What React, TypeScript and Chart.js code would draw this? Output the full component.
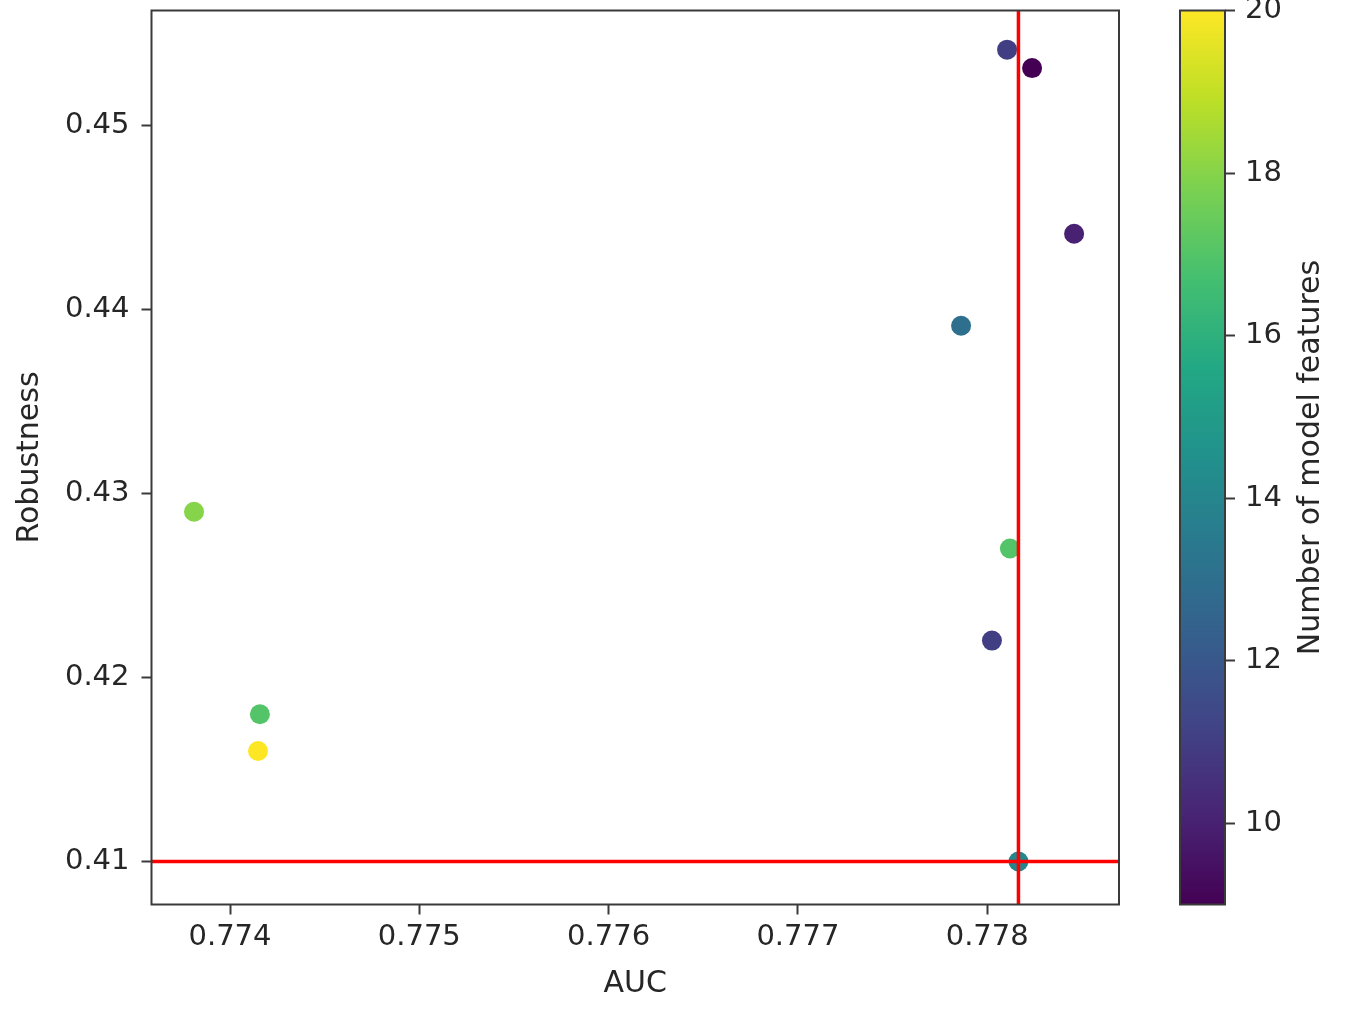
import React, { useEffect, useRef } from "react";
import { Chart, registerables } from "chart.js";

Chart.register(...registerables);

// ---- data ----
const AUC = [0.778105, 0.778237, 0.778459, 0.777862, 0.77381, 0.77812, 0.778025, 0.774158, 0.774148, 0.778165];
const ROBUSTNESS = [0.4541, 0.4531, 0.4441, 0.4391, 0.429, 0.427, 0.422, 0.418, 0.416, 0.41];
const FEATURES = [11, 9, 10, 13, 18, 17, 11, 17, 20, 14];

const X_TICKS = [0.774, 0.775, 0.776, 0.777, 0.778];
const Y_TICKS = [0.41, 0.42, 0.43, 0.44, 0.45];
const CB_TICKS = [10, 12, 14, 16, 18, 20];

const X_RANGE = [0.7735853, 0.7786962];
const Y_RANGE = [0.407663, 0.456228];
const CB_RANGE = [9, 20];

const REF_AUC = 0.778165;
const REF_ROBUSTNESS = 0.41;

const X_TITLE = "AUC";
const Y_TITLE = "Robustness";
const CB_TITLE = "Number of model features";

const VIRIDIS = [
  "#440154", "#482475", "#414487", "#355f8d", "#2a788e",
  "#21918c", "#22a884", "#44bf70", "#7ad151", "#bddf26", "#fde725",
];

// ---- helpers ----
function hexToRgb(h: string) {
  const n = parseInt(h.slice(1), 16);
  return [(n >> 16) & 255, (n >> 8) & 255, n & 255];
}
function viridis(v: number) {
  let t = (v - CB_RANGE[0]) / (CB_RANGE[1] - CB_RANGE[0]);
  t = Math.max(0, Math.min(1, t));
  const pos = t * (VIRIDIS.length - 1);
  const i = Math.min(Math.floor(pos), VIRIDIS.length - 2);
  const f = pos - i;
  const a = hexToRgb(VIRIDIS[i]);
  const b = hexToRgb(VIRIDIS[i + 1]);
  const c = a.map((x, k) => Math.round(x + (b[k] - x) * f));
  return `rgb(${c[0]},${c[1]},${c[2]})`;
}

const FONT_FAMILY = "'DejaVu Sans', sans-serif";
const TEXT_COLOR = "#262626";
const AXIS_COLOR = "#3a3a3a";
const TICK_FONT = { family: FONT_FAMILY, size: 29 };
const TITLE_FONT = { family: FONT_FAMILY, size: 30 };

const framePlugin = {
  id: "frame",
  afterDraw(chart: any) {
    const { ctx, chartArea } = chart;
    if (!chartArea) return;
    ctx.save();
    ctx.strokeStyle = AXIS_COLOR;
    ctx.lineWidth = 2;
    ctx.strokeRect(chartArea.left, chartArea.top, chartArea.right - chartArea.left, chartArea.bottom - chartArea.top);
    ctx.restore();
  },
};

const cbTitlePlugin = {
  id: "cbTitle",
  afterDraw(chart: any) {
    const { ctx, chartArea } = chart;
    if (!chartArea) return;
    ctx.save();
    ctx.translate(179, (chartArea.top + chartArea.bottom) / 2);
    ctx.rotate(-Math.PI / 2);
    ctx.font = `30px ${FONT_FAMILY}`;
    ctx.fillStyle = TEXT_COLOR;
    ctx.textAlign = "center";
    ctx.textBaseline = "alphabetic";
    ctx.fillText(CB_TITLE, 0, 0);
    ctx.restore();
  },
};

const MAIN_W = 1140;
const CB_W = 208;
const H = 1024;

export default function App() {
  const mainRef = useRef<HTMLCanvasElement | null>(null);
  const cbRef = useRef<HTMLCanvasElement | null>(null);

  useEffect(() => {
    document.body.style.margin = "0";
    const points = AUC.map((x, i) => ({ x, y: ROBUSTNESS[i] }));
    const main = new Chart(mainRef.current!, {
      type: "scatter",
      data: {
        datasets: [
          {
            data: [
              { x: REF_AUC, y: Y_RANGE[0] },
              { x: REF_AUC, y: Y_RANGE[1] },
            ],
            showLine: true,
            borderColor: "#ff0000",
            borderWidth: 3.5,
            pointRadius: 0,
          },
          {
            data: [
              { x: X_RANGE[0], y: REF_ROBUSTNESS },
              { x: X_RANGE[1], y: REF_ROBUSTNESS },
            ],
            showLine: true,
            borderColor: "#ff0000",
            borderWidth: 3.5,
            pointRadius: 0,
          },
          {
            data: points,
            pointRadius: 10,
            pointHoverRadius: 10,
            pointBorderWidth: 0,
            pointBackgroundColor: FEATURES.map(viridis),
            borderColor: "rgba(0,0,0,0)",
          },
        ],
      } as any,
      options: {
        animation: false,
        responsive: false,
        maintainAspectRatio: false,
        layout: { padding: { left: 0, top: 10.5, right: MAIN_W - 1119, bottom: 0 } },
        plugins: { legend: { display: false }, tooltip: { enabled: false } },
        scales: {
          x: {
            type: "linear",
            min: X_RANGE[0],
            max: X_RANGE[1],
            afterBuildTicks: (s: any) => {
              s.ticks = X_TICKS.map((v) => ({ value: v }));
            },
            afterFit: (s: any) => {
              s.height = H - 904.5;
              s.paddingLeft = 0;
              s.paddingRight = 0;
            },
            grid: { drawOnChartArea: false, drawTicks: true, tickLength: 10, tickWidth: 2, tickColor: AXIS_COLOR },
            border: { display: false },
            ticks: {
              font: TICK_FONT,
              color: TEXT_COLOR,
              padding: 6,
              maxRotation: 0,
              autoSkip: false,
              callback: (v: any) => Number(v).toFixed(3),
            },
            title: { display: true, text: X_TITLE, font: TITLE_FONT, color: TEXT_COLOR, padding: { top: 0, bottom: 22 } },
          },
          y: {
            type: "linear",
            min: Y_RANGE[0],
            max: Y_RANGE[1],
            afterBuildTicks: (s: any) => {
              s.ticks = Y_TICKS.map((v) => ({ value: v }));
            },
            afterFit: (s: any) => {
              s.width = 151.5;
              s.paddingTop = 0;
              s.paddingBottom = 0;
            },
            grid: { drawOnChartArea: false, drawTicks: true, tickLength: 10, tickWidth: 2, tickColor: AXIS_COLOR },
            border: { display: false },
            ticks: {
              font: TICK_FONT,
              color: TEXT_COLOR,
              padding: 12,
              autoSkip: false,
              callback: (v: any) => Number(v).toFixed(2),
            },
            title: { display: true, text: Y_TITLE, font: TITLE_FONT, color: TEXT_COLOR, padding: { top: 12, bottom: 0 } },
          },
        },
      } as any,
      plugins: [framePlugin],
    });

    const cb = new Chart(cbRef.current!, {
      type: "bar",
      data: {
        labels: ["cb"],
        datasets: [
          {
            data: [CB_RANGE],
            barPercentage: 1,
            categoryPercentage: 1,
            borderWidth: 0,
            backgroundColor: (c: any) => {
              const ch = c.chart;
              const ys = ch.scales.y;
              if (!ys || !ch.chartArea) return VIRIDIS[0];
              const g = ch.ctx.createLinearGradient(0, ys.getPixelForValue(CB_RANGE[0]), 0, ys.getPixelForValue(CB_RANGE[1]));
              VIRIDIS.forEach((col, i) => g.addColorStop(i / (VIRIDIS.length - 1), col));
              return g;
            },
          },
        ],
      } as any,
      options: {
        animation: false,
        responsive: false,
        maintainAspectRatio: false,
        layout: { padding: { left: 1180 - MAIN_W, top: 10.5, right: 0, bottom: H - 904.5 } },
        plugins: { legend: { display: false }, tooltip: { enabled: false } },
        scales: {
          x: { display: false },
          y: {
            position: "right",
            min: CB_RANGE[0],
            max: CB_RANGE[1],
            afterBuildTicks: (s: any) => {
              s.ticks = CB_TICKS.map((v) => ({ value: v }));
            },
            afterFit: (s: any) => {
              s.width = CB_W - (1225 - MAIN_W);
              s.paddingTop = 0;
              s.paddingBottom = 0;
            },
            grid: { drawOnChartArea: false, drawTicks: true, tickLength: 10, tickWidth: 2, tickColor: AXIS_COLOR },
            border: { display: false },
            ticks: {
              font: TICK_FONT,
              color: TEXT_COLOR,
              padding: 10,
              autoSkip: false,
              callback: (v: any) => String(v),
            },
          },
        },
      } as any,
      plugins: [framePlugin, cbTitlePlugin],
    });

    return () => {
      main.destroy();
      cb.destroy();
    };
  }, []);

  return (
    <div style={{ position: "relative", width: MAIN_W + CB_W, height: H, background: "#fff" }}>
      <canvas
        ref={mainRef}
        width={MAIN_W}
        height={H}
        style={{ position: "absolute", left: 0, top: 0, width: MAIN_W, height: H }}
      />
      <canvas
        ref={cbRef}
        width={CB_W}
        height={H}
        style={{ position: "absolute", left: MAIN_W, top: 0, width: CB_W, height: H }}
      />
    </div>
  );
}
